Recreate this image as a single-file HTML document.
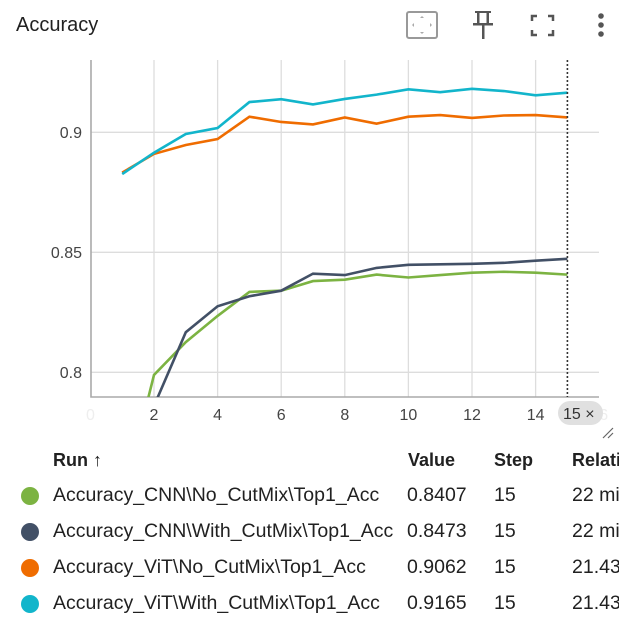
<!DOCTYPE html>
<html><head><meta charset="utf-8"><style>
body{margin:0;width:619px;height:617px;background:#fff;font-family:"Liberation Sans",sans-serif;overflow:hidden;position:relative}
#wrap{position:absolute;left:0;top:0;width:619px;height:617px;overflow:hidden}
.t{position:absolute;color:#212121;overflow:hidden}
</style></head><body><div id="wrap">
<div class="t" style="left:16px;top:14px;font-size:20px">Accuracy</div>
<svg style="position:absolute;left:0;top:0" width="619" height="60">
<g><rect x="407" y="12" width="30" height="26" rx="2" fill="none" stroke="#999" stroke-width="2"/><path d="M422 16l-2 2h4zM422 34l-2-2h4zM412 25l2-2v4zM432 25l-2-2v4z" fill="#aaa"/></g>
<g fill="#555"><rect x="475" y="11" width="16" height="2"/><rect x="477" y="12" width="2.5" height="12"/><rect x="486.5" y="12" width="2.5" height="12"/><rect x="473" y="23" width="20" height="2.5"/><rect x="482" y="24" width="2.5" height="15"/></g>
<g stroke="#555" stroke-width="2.5" fill="none"><path d="M532 21v-5h5M548 16h5v5M553 30v5h-5M537 35h-5v-5"/></g>
<g fill="#555"><circle cx="601" cy="16" r="2.8"/><circle cx="601" cy="25" r="2.8"/><circle cx="601" cy="34" r="2.8"/></g>
</svg>
<svg id="chart" style="position:absolute;left:0;top:0" width="619" height="440"></svg>
<div>
<div class="t" style="left:53px;top:450px;font-size:18px;font-weight:bold">Run ↑</div>
<div class="t" style="left:408px;top:450px;font-size:18px;font-weight:bold">Value</div>
<div class="t" style="left:494px;top:450px;font-size:18px;font-weight:bold">Step</div>
<div class="t" style="left:572px;top:450px;width:47px;font-size:18px;font-weight:bold;white-space:nowrap">Relative</div>
</div>
</div>
<script>
const steps=[1,2,3,4,5,6,7,8,9,10,11,12,13,14,15];
const cnnNo=[0.746,0.7989,0.8126,0.8235,0.8335,0.8340,0.8380,0.8386,0.8407,0.8395,0.8405,0.8415,0.8419,0.8415,0.8407];
const cnnWith=[0.74,0.786,0.8167,0.8275,0.8317,0.8340,0.8411,0.8405,0.8435,0.8448,0.8450,0.8452,0.8456,0.8465,0.8473];
const vitNo=[0.8832,0.8910,0.8947,0.8972,0.9065,0.9043,0.9033,0.9062,0.9036,0.9065,0.9072,0.9060,0.9070,0.9072,0.9062];
const vitWith=[0.8826,0.8915,0.8993,0.9018,0.9126,0.9138,0.9116,0.9139,0.9157,0.9179,0.9167,0.9181,0.9172,0.9154,0.9165];
const runNames=["Accuracy_CNN\\No_CutMix\\Top1_Acc","Accuracy_CNN\\With_CutMix\\Top1_Acc","Accuracy_ViT\\No_CutMix\\Top1_Acc","Accuracy_ViT\\With_CutMix\\Top1_Acc"];
const runColors=["#7cb342","#425066","#ef6c00","#12b5cb"];
const runValues=["0.8407","0.8473","0.9062","0.9165"];
const runRel=["22 min","22 min","21.43 min","21.43 min"];
const xTicks=[0,2,4,6,8,10,12,14,16];
const yTicks=[0.8,0.85,0.9];
const X0=91,X1=599,Y0=60,Y1=397;
const xs=v=>90.4+v*31.8;
const ys=v=>132.3-(v-0.9)*2400;
const svg=document.getElementById('chart');const NS='http://www.w3.org/2000/svg';
function mk(t,a,p){const e=document.createElementNS(NS,t);for(const k in a)e.setAttribute(k,a[k]);(p||svg).appendChild(e);return e;}
const defs=mk('defs',{});const cp=mk('clipPath',{id:'c'},defs);mk('rect',{x:X0,y:Y0,width:X1-X0,height:Y1-Y0},cp);
xTicks.forEach(v=>{if(v>0&&v<16){const l=mk('line',{x1:xs(v),x2:xs(v),y1:Y0,y2:Y1,stroke:'#ddd','stroke-width':1.3});}
const t=mk('text',{x:xs(v),y:420,'text-anchor':'middle','font-size':16,fill:(v==0||v==16)?'#eee':'#444'});t.textContent=v;});
yTicks.forEach(v=>{const l=mk('line',{x1:X0,x2:X1,y1:ys(v),y2:ys(v),stroke:'#ddd','stroke-width':1.3});
const t=mk('text',{x:82,y:ys(v)+5.5,'text-anchor':'end','font-size':16,fill:'#444'});t.textContent=v;});
let a=mk('path',{d:`M${X0} ${Y0}V${Y1}H${X1}`,stroke:'#aaa','stroke-width':1.6,fill:'none'});
const g=mk('g',{'clip-path':'url(#c)'});
[cnnNo,cnnWith,vitNo,vitWith].forEach((s,i)=>{const p=mk('path',{d:s.map((v,j)=>(j?'L':'M')+xs(steps[j])+' '+ys(v)).join(''),stroke:runColors[i],'stroke-width':2.6,fill:'none'},g);});
const h=mk('line',{x1:xs(15),x2:xs(15),y1:Y0,y2:Y1,stroke:'#333','stroke-width':1.6,'stroke-dasharray':'2,2'});
const b=mk('rect',{x:558,y:401,width:45,height:24,rx:12,fill:'#e0e0e0'});
const bt=mk('text',{x:563,y:419,'font-size':16,fill:'#333'});bt.textContent='15 ×';
const rz=mk('path',{d:'M603 438L613 428M608 438L613 433',stroke:'#666','stroke-width':1.2});
const wrap=document.getElementById('wrap');
runNames.forEach((n,i)=>{const y=496+i*36;
const d=document.createElement('div');d.className='t';d.style.cssText=`left:21px;top:${y-9}px;width:18px;height:18px;border-radius:50%;background:${runColors[i]}`;wrap.appendChild(d);

[[53,n,'run-name',350],[407,runValues[i],'run-value',80],[494,'15','run-step',60],[572,runRel[i],'run-relative',47]].forEach(([x,txt,nm,w])=>{const e=document.createElement('div');e.className='t';e.style.cssText=`left:${x}px;top:${y-12}px;width:${w}px;font-size:19.5px;white-space:nowrap`;e.textContent=txt;wrap.appendChild(e);
});});
</script>
</body></html>
